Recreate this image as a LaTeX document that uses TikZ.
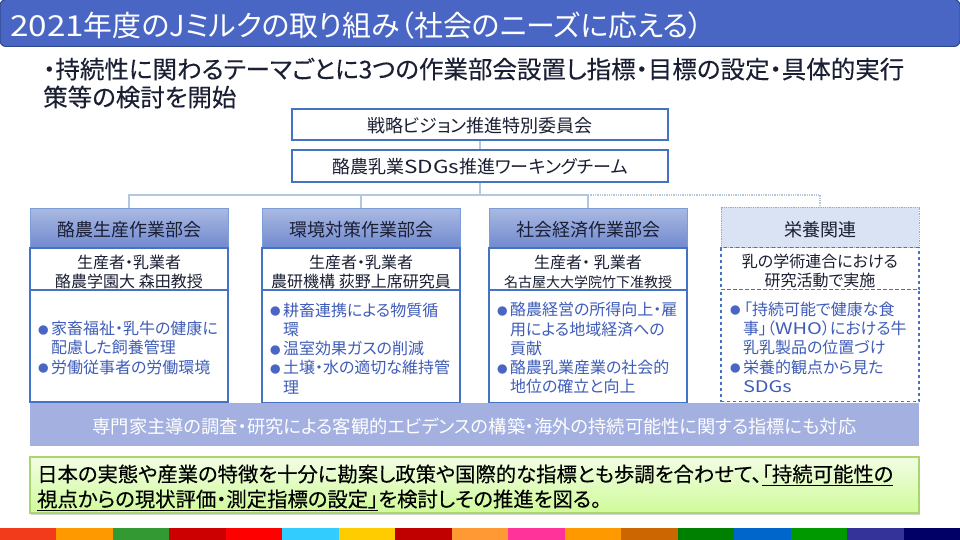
\documentclass[tikz,border=0pt]{standalone}
\usepackage{fontspec}
\usepackage{xcolor}
\setmainfont[RawFeature=+palt]{Noto Sans CJK JP}
\usepackage{tikz}
\usetikzlibrary{positioning,shadows}

\definecolor{titleblue}{HTML}{4A66C4}
\definecolor{titleedge}{HTML}{2F4A8C}
\definecolor{boxblue}{HTML}{4472C4}
\definecolor{linkblue}{HTML}{B4C7E0}
\definecolor{bodyblue}{HTML}{3F5DB8}
\definecolor{inktext}{HTML}{1A1F33}
\definecolor{bandblue}{HTML}{A3B0E0}
\definecolor{headtop}{HTML}{ABBAE3}
\definecolor{headbot}{HTML}{7089CF}
\definecolor{nutrifill}{HTML}{DAE3F3}
\definecolor{limetop}{HTML}{F2FDE4}
\definecolor{limebot}{HTML}{CFFB99}
\definecolor{limeedge}{HTML}{A9D66E}

\newcommand{\fs}[1]{\fontsize{#1}{#1}\selectfont}
\newcommand{\lat}[2][1.25]{{\addfontfeature{FakeStretch=#1}#2}}
\newcommand{\bold}{\addfontfeature{FakeBold=0.25}}
\newcommand{\uplift}{\rule{0pt}{19pt}}
\newcommand{\bul}[1]{\makebox[13pt][l]{\raisebox{0.5pt}{\textcolor{titleblue}{\fontsize{10.5}{11}\selectfont ●}}}#1}
\newcommand{\cont}[1]{\hspace*{13pt}#1}

\begin{document}
\begin{tikzpicture}[x=1pt,y=-1pt,node distance=41pt,inner sep=0pt,
    boxed/.style={draw=boxblue,line width=1.2pt,fill=white,text=inktext,minimum width=376pt,font=\fs{18},text height=18pt,text depth=2pt},
    head/.style={draw=boxblue!70,line width=0.8pt,top color=headtop,bottom color=headbot,text=inktext,minimum width=198pt,minimum height=40pt,font=\fs{18},text height=19pt,text depth=2pt},
    who/.style={draw=boxblue,line width=1.2pt,fill=white,text=inktext,minimum width=198pt,minimum height=42pt,align=center,font=\fontsize{16}{19}\selectfont},
    body/.style={draw=boxblue,line width=1.2pt,fill=white,text=bodyblue,minimum height=112pt,inner xsep=8pt,text width=182pt,align=left,font=\fontsize{16}{19.3}\selectfont,execute at begin node={\rule{0pt}{17pt}}},
    link/.style={draw=linkblue,line width=1.3pt}]
  \useasboundingbox (0,0) rectangle (960,540);

  % title and lead text
  \node[draw=titleedge,line width=1pt,fill=titleblue,rounded corners=6pt,minimum width=960pt,minimum height=47pt] (title) at (480,23) {};
  \node[anchor=west,text=white,font=\fs{28.9}] (titletext) at (10,26) {\lat[1.15]{2021}年度のJミルクの取り組み（社会のニーズに応える）};
  \node[anchor=north west,align=left,text=inktext,font=\fontsize{24.5}{28}\selectfont\bold] (lead) at (43,57.5) {・持続性に関わるテーマごとに3つの作業部会設置し指標・目標の設定・具体的実行\\策等の検討を開始};

  % links
  \coordinate (bus) at (480,195);
  \node[boxed,minimum height=31pt] (strategy) at (480,124.5) {戦略ビジョン推進特別委員会};
  \node[boxed,minimum height=32pt] (team) [below of=strategy,node distance=41.5pt] {酪農乳業\lat{SDGs}推進ワーキングチーム};
  \node[head] (farmhead) at (129,228) {酪農生産作業部会};
  \node[head] (envhead) at (361,228) {環境対策作業部会};
  \node[head] (sochead) at (588,228) {社会経済作業部会};
  \node[head,draw=boxblue!60,densely dotted,top color=nutrifill,bottom color=nutrifill] (nutrihead) at (820,227.5) {栄養関連};

  \draw[link] (strategy) -- (team);
  \draw[link] (team) -- (bus);
  \draw[link] (bus) -| (farmhead);
  \draw[link] (bus) -| (envhead);
  \draw[link] (bus) -| (sochead);
  \draw[link,densely dotted] (bus) -| (nutrihead);

  % working groups
  \node[who] (farmwho) [below of=farmhead] {\uplift 生産者・乳業者\\酪農学園大 森田教授};
  \node[body] (farmbody) at (129,346) {\bul{家畜福祉・乳牛の健康に}\\\cont{配慮した飼養管理}\\\bul{労働従事者の労働環境}};

  \node[who] (envwho) [below of=envhead] {\uplift 生産者・乳業者\\農研機構 荻野上席研究員};
  \node[body] (envbody) at (361,346.5) {\bul{耕畜連携による物質循}\\\cont{環}\\\bul{温室効果ガスの削減}\\\bul{土壌・水の適切な維持管}\\\cont{理}};

  \node[who] (socwho) [below of=sochead] {\uplift 生産者・ 乳業者\\{\fs{14}名古屋大大学院竹下准教授}};
  \node[body] (socbody) at (588,346.5) {\bul{酪農経営の所得向上・雇}\\\cont{用による地域経済への}\\\cont{貢献}\\\bul{酪農乳業産業の社会的}\\\cont{地位の確立と向上}};

  \node[who,dashed] (nutriwho) at (820,268.5) {\uplift 乳の学術連合における\\研究活動で実施};
  \node[body,dashed,inner xsep=9pt,text width=180pt] (nutribody) at (820,345.5) {\bul{\kern1pt「持続可能で健康な食}\\\cont{事」（\lat{WHO}）における牛}\\\cont{乳乳製品の位置づけ}\\\bul{栄養的観点から見た}\\\cont{\lat{SDGs}}};

  % evidence band
  \node[fill=bandblue,text=white,minimum width=889pt,minimum height=43pt,font=\fs{18.25},text height=20pt,text depth=2pt] (band) at (474.5,424.5) {専門家主導の調査・研究による客観的エビデンスの構築・海外の持続可能性に関する指標にも対応};

  % conclusion
  \node[draw=limeedge,line width=1.5pt,top color=limetop,bottom color=limebot,drop shadow={shadow xshift=0.8pt,shadow yshift=-1.5pt,opacity=0.35},minimum width=889pt,minimum height=56pt] (goal) at (474.5,485) {};
  \node[anchor=west,align=left,text=black,font=\fontsize{20.35}{25}\selectfont\bold] (goaltext) at (37,487.5) {日本の実態や産業の特徴を十分に勘案し政策や国際的な指標とも歩調を合わせて、\underline{「持続可能性の}\\\underline{視点からの現状評価・測定指標の設定」}を検討しその推進を図る。};

  % colour strip
  \foreach \c [count=\i from 0] in {F23B1A,FF9900,339933,CC0000,FF0000,33CCFF,FFCC00,C00000,FF9933,FF3399,FF9900,CC6600,008000,0066CC,009900,333399,000066} {
    \definecolor{stripcol}{HTML}{\c}
    \fill[stripcol] ({\i*56.47},528) rectangle ({(\i+1)*56.47},540);
  }
\end{tikzpicture}
\end{document}
